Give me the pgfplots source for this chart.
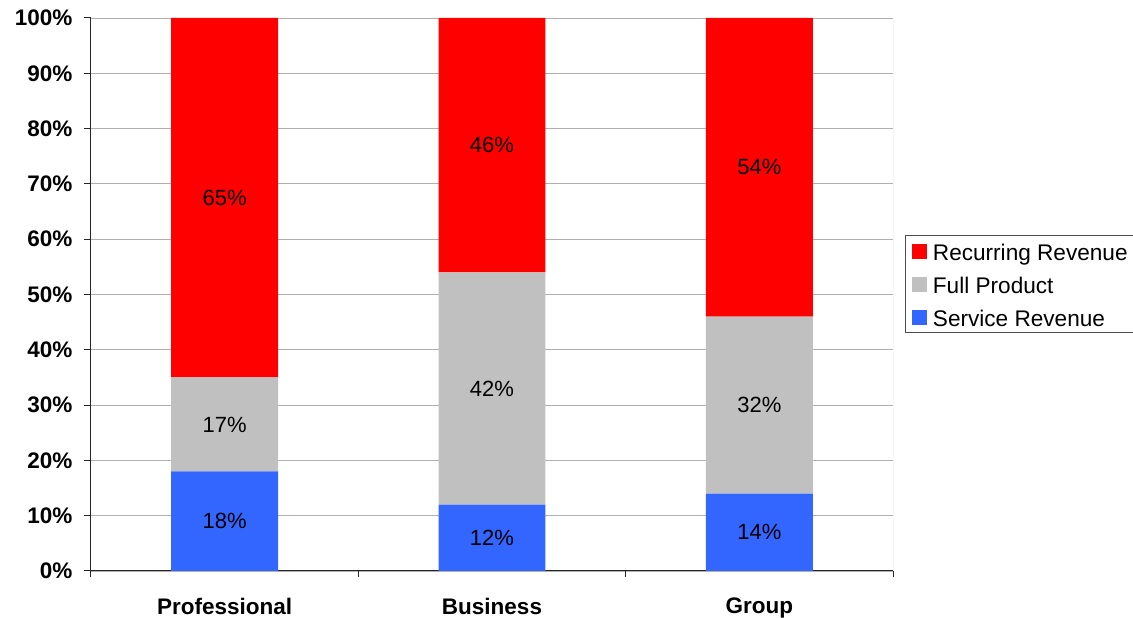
\documentclass[border=0pt]{standalone}
\usepackage{fontspec}
\setmainfont{Liberation Sans}
\usepackage{pgfplots}
\pgfplotsset{compat=1.18}
\definecolor{recred}{RGB}{255,0,0}
\definecolor{fullgray}{RGB}{192,192,192}
\definecolor{servblue}{RGB}{51,102,255}
\definecolor{gridgray}{RGB}{175,175,175}
\begin{document}
\begin{tikzpicture}
\path[use as bounding box] (-91pt,-47pt) rectangle (1042pt,571pt);
\begin{axis}[
  at={(0pt,0pt)}, anchor=south west,
  scale only axis, width=802pt, height=553pt,
  ybar stacked, bar width=0.4,
  xmin=-0.5, xmax=2.5, ymin=0, ymax=100,
  xtick={-0.5,0.5,1.5,2.5}, xticklabels={},
  extra x ticks={0,1,2},
  extra x tick labels={Professional,Business,Group},
  extra x tick style={tick style={draw=none}},
  ytick={0,10,...,100},
  /pgf/number format/assume math mode=true,
  yticklabel={\pgfmathprintnumber{\tick}\%},
  ymajorgrids, grid style={gridgray, line width=0.8pt},
  axis x line*=bottom, axis y line*=left,
  axis line style={-, black!85, line width=1pt},
  tick align=outside, major tick length=6.5pt,
  tick style={black!85, line width=1pt},
  tick label style={font=\bfseries\fontsize{22.5}{27}\selectfont, inner sep=0pt},
  yticklabel style={anchor=east, xshift=-12pt},
  xticklabel style={anchor=north, yshift=-20pt},
  reverse legend,
  legend style={at={(1.015,0.6076)}, anchor=north west, draw=black!70, line width=0.8pt,
    font=\fontsize{22.6}{27}\selectfont, inner xsep=7pt, inner ysep=3pt,
    row sep=7.6pt, cells={anchor=west},
    nodes={inner xsep=5.5pt, inner ysep=0pt, text height=22.4pt, text depth=3pt}},
  legend image code/.code={\fill[#1] (0pt,-7.5pt) rectangle (15pt,7.5pt);},
]
\addplot[fill=servblue, draw=none] coordinates {(0,18) (1,12) (2,14)};
\addplot[fill=fullgray, draw=none] coordinates {(0,17) (1,42) (2,32)};
\addplot[fill=recred, draw=none] coordinates {(0,65) (1,46) (2,54)};
\legend{Service Revenue, Full Product, Recurring Revenue}
\draw[gridgray, line width=0.8pt] (rel axis cs:1,0) -- (rel axis cs:1,1);
\end{axis}
\begin{axis}[
  at={(0pt,0pt)}, anchor=south west,
  scale only axis, width=802pt, height=553pt,
  xmin=-0.5, xmax=2.5, ymin=0, ymax=100,
  hide axis,
]
\addplot[draw=none, mark=none, nodes near coords, point meta=explicit symbolic,
  every node near coord/.append style={anchor=center, inner sep=0pt,
    font=\fontsize{22}{26}\selectfont, black}]
  coordinates {
    (0,9) [18\%] (0,26.5) [17\%] (0,67.5) [65\%]
    (1,6) [12\%] (1,33) [42\%] (1,77) [46\%]
    (2,7) [14\%] (2,30) [32\%] (2,73) [54\%]
  };
\end{axis}
\end{tikzpicture}
\end{document}
